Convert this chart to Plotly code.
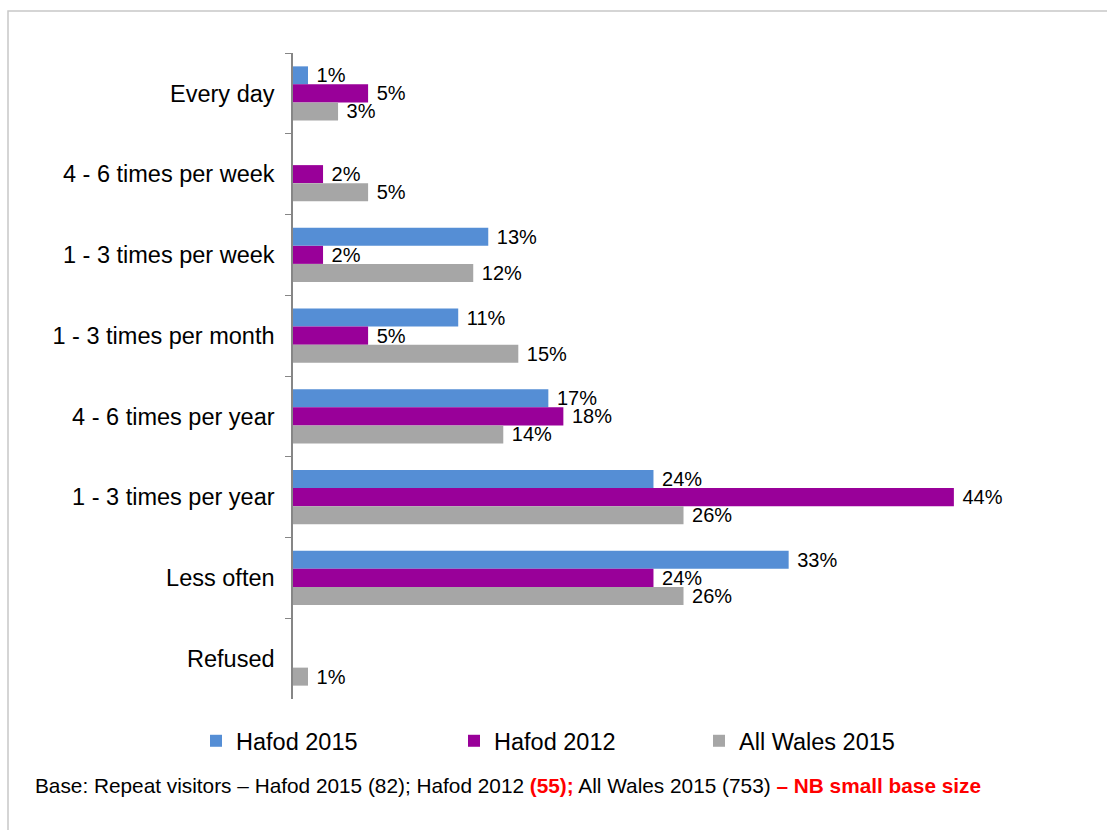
import plotly.graph_objects as go

# Frequency of visits, repeat visitors
categories = [
    "Every day",
    "4 - 6 times per week",
    "1 - 3 times per week",
    "1 - 3 times per month",
    "4 - 6 times per year",
    "1 - 3 times per year",
    "Less often",
    "Refused",
]
hafod_2015 = [1, None, 13, 11, 17, 24, 33, None]
hafod_2012 = [5, 2, 2, 5, 18, 44, 24, None]
all_wales_2015 = [3, 5, 12, 15, 14, 26, 26, 1]

series_names = ["Hafod 2015", "Hafod 2012", "All Wales 2015"]
series_colors = ["#558ED5", "#990099", "#A6A6A6"]
legend_widths = [213, 200, 200]

FONT = "Arial, Liberation Sans, sans-serif"

# page / plot geometry in pixels
W, H = 1107, 830
L, R, T, B = 293, 63, 53, 131
PW, PH = W - L - R, H - T - B


def px_x(x):
    return (x - L) / PW


def px_y(y):
    return (H - B - y) / PH


fig = go.Figure()
for name, vals, color, lw in zip(series_names,
                                 [hafod_2015, hafod_2012, all_wales_2015],
                                 series_colors, legend_widths):
    fig.add_trace(go.Bar(
        y=categories,
        x=vals,
        name=name,
        orientation="h",
        marker=dict(color=color, line=dict(width=0)),
        texttemplate="\u00a0%{x}%",
        textposition="outside",
        constraintext="none",
        textfont=dict(family=FONT, size=20, color="#000000"),
        cliponaxis=False,
        legendwidth=lw,
    ))

fig.update_layout(
    width=W,
    height=H,
    margin=dict(l=L, r=R, t=T, b=B, autoexpand=False),
    paper_bgcolor="white",
    plot_bgcolor="white",
    barmode="group",
    bargap=0.331,
    bargroupgap=0,
    font=dict(family=FONT, color="#000000"),
    xaxis=dict(
        range=[0, 50],
        showgrid=False,
        zeroline=False,
        showticklabels=False,
        showline=False,
        ticks="",
    ),
    yaxis=dict(
        autorange="reversed",
        type="category",
        showgrid=False,
        zeroline=False,
        showline=True,
        linecolor="#868686",
        linewidth=1.5,
        ticks="outside",
        tickson="boundaries",
        ticklen=6,
        tickwidth=1,
        tickcolor="#868686",
        ticklabelstandoff=12,
        tickfont=dict(family=FONT, size=23.5, color="#000000"),
    ),
    showlegend=True,
    legend=dict(
        orientation="h",
        x=px_x(196),
        xanchor="left",
        y=px_y(741),
        yanchor="middle",
        font=dict(family=FONT, size=23.5, color="#000000"),
        bgcolor="rgba(0,0,0,0)",
        traceorder="normal",
        itemclick=False,
    ),
    shapes=[dict(
        type="rect",
        xref="paper",
        yref="paper",
        x0=px_x(8),
        x1=px_x(1130),
        y0=px_y(850),
        y1=px_y(11),
        line=dict(color="#C8C8C8", width=1.5),
        layer="below",
    )],
    annotations=[dict(
        xref="paper",
        yref="paper",
        x=px_x(33),
        y=px_y(785),
        xanchor="left",
        yanchor="middle",
        showarrow=False,
        align="left",
        font=dict(family=FONT, size=20.8, color="#000000"),
        text=("Base: Repeat visitors \u2013 Hafod 2015 (82); Hafod 2012 "
              "<b><span style='color:#FF0000'>(55);</span></b>"
              " All Wales 2015 (753) "
              "<b><span style='color:#FF0000'>\u2013 NB small base size</span></b>"),
    )],
)

fig.write_html("out.html")
